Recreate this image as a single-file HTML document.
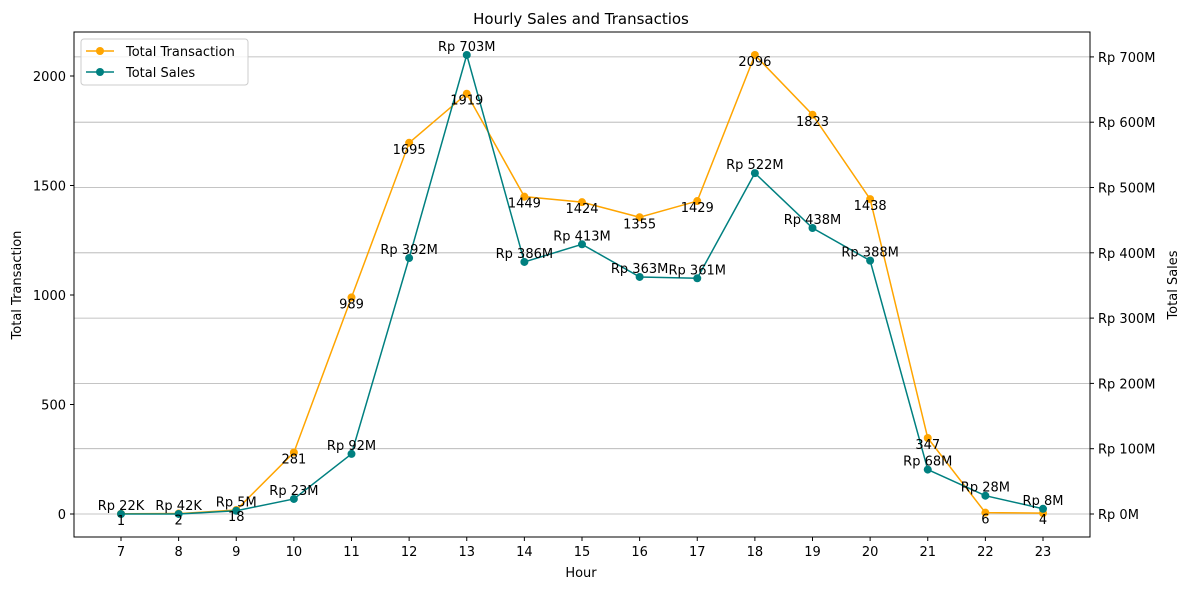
<!DOCTYPE html>
<html><head><meta charset="utf-8"><style>
body{margin:0;background:#fff}
svg text{font-family:"DejaVu Sans","Liberation Sans",sans-serif;font-size:13px}
</style></head><body>
<svg id="c" width="1189" height="590" xmlns="http://www.w3.org/2000/svg">
<rect width="1189" height="590" fill="#fff"/>
<g id="grid"></g><g id="axes"></g><g id="series"></g><g id="labels"></g>
<g>
<rect x="81" y="39" width="167" height="46" rx="3" fill="#fff" fill-opacity="0.8" stroke="#ccc"/>
<line x1="86" y1="51" x2="114" y2="51" stroke="orange" stroke-width="1.5"/><circle cx="100" cy="51" r="4" fill="orange"/>
<text x="126" y="56">Total Transaction</text>
<line x1="86" y1="72" x2="114" y2="72" stroke="teal" stroke-width="1.5"/><circle cx="100" cy="72" r="4" fill="teal"/>
<text x="126" y="77">Total Sales</text>
</g>
<text x="581" y="24" text-anchor="middle" style="font-size:15px">Hourly Sales and Transactios</text>
<text x="581" y="577" text-anchor="middle">Hour</text>
<text transform="translate(21,285) rotate(-90)" text-anchor="middle">Total Transaction</text>
<text transform="translate(1177,285) rotate(-90)" text-anchor="middle">Total Sales</text>
</svg>
<script>
const hours=[7,8,9,10,11,12,13,14,15,16,17,18,19,20,21,22,23];
const transactions=[1,2,18,281,989,1695,1919,1449,1424,1355,1429,2096,1823,1438,347,6,4];
const sales=[0.022,0.042,5,23,92,392,703,386,413,363,361,522,438,388,68,28,8];
const salesLabels=["Rp 22K","Rp 42K","Rp 5M","Rp 23M","Rp 92M","Rp 392M","Rp 703M","Rp 386M","Rp 413M","Rp 363M","Rp 361M","Rp 522M","Rp 438M","Rp 388M","Rp 68M","Rp 28M","Rp 8M"];
const leftTicks=[0,500,1000,1500,2000];
const rightTicks=[0,100,200,300,400,500,600,700];
const L=74,R=1090,T=32,B=537;
const xs=h=>121+(h-7)*(922/16);
const yl=v=>514-v*0.219;
const yr=v=>514-v*0.653;
const NS="http://www.w3.org/2000/svg";
function mk(g,t,a,txt){const e=document.createElementNS(NS,t);for(const k in a)e.setAttribute(k,a[k]);if(txt!==undefined)e.textContent=txt;document.getElementById(g).appendChild(e);return e;}
rightTicks.forEach(v=>{const y=yr(v);
const g=mk('grid','line',{x1:L,x2:R,y1:y,y2:y,stroke:'#b0b0b0','stroke-width':0.8});


mk('axes','line',{x1:R,x2:R+4,y1:y,y2:y,stroke:'#000'});
const t=mk('axes','text',{x:R+8,y:y+5},'Rp '+v+'M');

});
leftTicks.forEach(v=>{const y=yl(v);
mk('axes','line',{x1:L-4,x2:L,y1:y,y2:y,stroke:'#000'});
const t=mk('axes','text',{x:L-8,y:y+5,'text-anchor':'end'},String(v));

});
hours.forEach(h=>{const x=xs(h);
mk('axes','line',{x1:x,x2:x,y1:B,y2:B+4,stroke:'#000'});
const t=mk('axes','text',{x:x,y:B+19,'text-anchor':'middle'},String(h));

});
const fr=mk('axes','rect',{x:L,y:T,width:R-L,height:B-T,fill:'none',stroke:'#000'});


function series(vals,yf,col,name){
const p=mk('series','polyline',{points:vals.map((v,i)=>xs(hours[i])+','+yf(v)).join(' '),fill:'none',stroke:col,'stroke-width':1.5});


vals.forEach((v,i)=>{const c=mk('series','circle',{cx:xs(hours[i]),cy:yf(v),r:4,fill:col});

});}
series(transactions,yl,'orange','transaction');
series(sales,yr,'teal','sales');
transactions.forEach((v,i)=>{const t=mk('labels','text',{x:xs(hours[i]),y:yl(v)+11,'text-anchor':'middle'},String(v));

});
sales.forEach((v,i)=>{const t=mk('labels','text',{x:xs(hours[i]),y:yr(v)-4,'text-anchor':'middle'},salesLabels[i]);

});
</script>
</body></html>
